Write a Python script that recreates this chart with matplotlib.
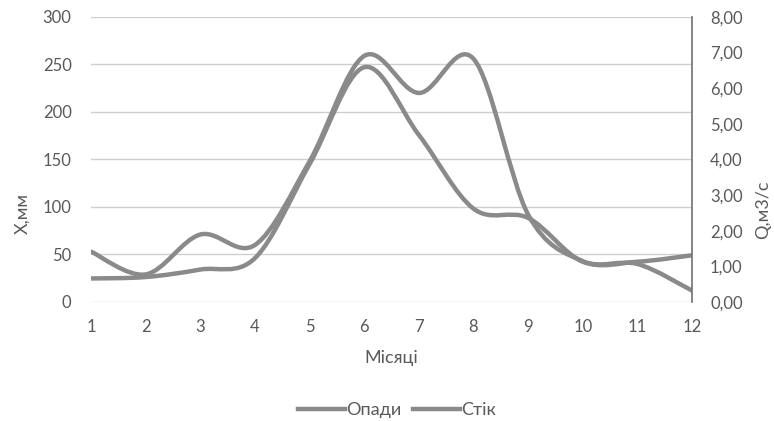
import matplotlib
matplotlib.use('Agg')
import matplotlib.pyplot as plt
from matplotlib.path import Path
from matplotlib.patches import PathPatch
from matplotlib.lines import Line2D
import numpy as np

plt.rcParams['font.family'] = ['Lato', 'DejaVu Sans']

months = [1, 2, 3, 4, 5, 6, 7, 8, 9, 10, 11, 12]
opady_mm = [53, 29, 71, 60, 148, 259, 220, 256, 92, 43, 40, 12]          # Опади, X mm
stik_q = [0.66, 0.70, 0.91, 1.23, 3.87, 6.59, 4.69, 2.62, 2.36, 1.13, 1.13, 1.31]  # Стік, m3/s

LINE = '#8a8a8a'
TXT = '#595959'
GRID = '#cfcfcf'


def smooth_path(x, y):
    # excel-like smoothed line: bezier segments with catmull-rom handles
    x = np.asarray(x, float)
    y = np.asarray(y, float)
    n = len(x)
    verts = [(x[0], y[0])]
    codes = [Path.MOVETO]
    for i in range(n - 1):
        p0 = max(i - 1, 0)
        p3 = min(i + 2, n - 1)
        c1 = (x[i] + (x[i + 1] - x[p0]) / 6, y[i] + (y[i + 1] - y[p0]) / 6)
        c2 = (x[i + 1] - (x[p3] - x[i]) / 6, y[i + 1] - (y[p3] - y[i]) / 6)
        verts += [c1, c2, (x[i + 1], y[i + 1])]
        codes += [Path.CURVE4] * 3
    return Path(verts, codes)


fig = plt.figure(figsize=(7.74, 4.21), dpi=100)
ax = fig.add_axes([0.1176, 0.2827, 0.7765, 0.677])
ax2 = ax.twinx()

ax.set_xlim(1, 12)
ax.set_ylim(0, 300)
ax2.set_ylim(0, 8)
ax.set_xticks(months)
ax.set_yticks(range(0, 301, 50))
ax2.set_yticks(range(0, 9))
ax2.set_yticklabels([f'{v},00' for v in range(0, 9)])

ax.yaxis.grid(True, color=GRID, lw=1)
ax.set_axisbelow(True)

for a in (ax, ax2):
    for s in a.spines.values():
        s.set_visible(False)
    a.tick_params(length=0, labelsize=12, colors=TXT)
ax2.spines['right'].set_visible(True)
ax2.spines['right'].set_color('#707070')
ax2.spines['right'].set_linewidth(1.2)
ax.tick_params(axis='y', pad=14)
ax.tick_params(axis='x', pad=12)
ax2.tick_params(axis='y', pad=13)

ax.add_patch(PathPatch(smooth_path(months, opady_mm), fill=False,
                       edgecolor=LINE, lw=3.2, capstyle='round', joinstyle='round'))
ax2.add_patch(PathPatch(smooth_path(months, stik_q), fill=False,
                        edgecolor=LINE, lw=3.2, capstyle='round', joinstyle='round'))

ax.set_xlabel('Місяці', fontsize=13, color=TXT, labelpad=11)
fig.text(22 / 774, 1 - 214 / 421, 'X,мм', rotation=90, ha='center', va='center',
         fontsize=13, color=TXT)
fig.text(763 / 774, 1 - 210 / 421, 'Q,м3/с', rotation=90, ha='center', va='center',
         fontsize=13, color=TXT)

handles = [Line2D([], [], color=LINE, lw=3.2), Line2D([], [], color=LINE, lw=3.2)]
fig.legend(handles, ['Опади', 'Стік'], loc='center', bbox_to_anchor=(397 / 774, 1 - 410 / 421),
           ncol=2, frameon=False, fontsize=13, labelcolor=TXT, handlelength=2.6,
           handletextpad=0.1, columnspacing=0.6)

fig.savefig('out.png', dpi=100)
